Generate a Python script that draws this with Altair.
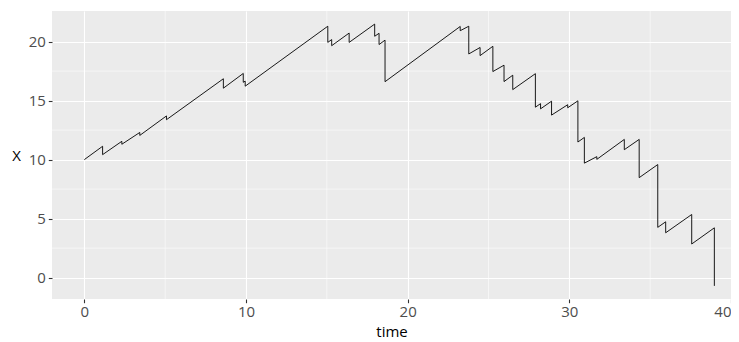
import altair as alt
import pandas as pd

# vertices of the path (time, X); repeated times mark downward jumps
time = [0.0,
        1.13, 1.13, 2.32, 2.32, 3.43, 3.43, 5.08, 5.08,
        8.6, 8.6, 9.83, 9.83, 9.95, 9.95,
        15.06, 15.06, 15.3, 15.3, 16.38, 16.38,
        17.96, 17.96, 18.23, 18.23, 18.6, 18.6,
        23.25, 23.25, 23.78, 23.78, 24.48, 24.48, 25.27, 25.27,
        25.96, 25.96, 26.5, 26.5, 27.9, 27.9, 28.22, 28.22,
        28.9, 28.9, 29.9, 29.9, 30.53, 30.53, 30.93, 30.93,
        31.7, 31.7, 33.4, 33.4, 34.32, 34.32, 35.47, 35.47,
        35.96, 35.96, 37.57, 37.57, 38.97, 38.97]
X = [10.0,
     11.13, 10.42, 11.55, 11.3, 12.3, 12.05, 13.7, 13.38,
     16.85, 16.05, 17.3, 16.55, 16.65, 16.22,
     21.3, 19.93, 20.17, 19.65, 20.72, 19.93,
     21.48, 20.45, 20.7, 19.75, 20.12, 16.6,
     21.28, 20.92, 21.3, 18.95, 19.5, 18.81, 19.6, 17.46,
     18.0, 16.61, 17.15, 15.93, 17.28, 14.44, 14.74, 14.3,
     14.95, 13.77, 14.65, 14.39, 14.98, 11.49, 11.88, 9.7,
     10.25, 10.02, 11.71, 10.84, 11.71, 8.47, 9.58, 4.26,
     4.73, 3.8, 5.35, 2.85, 4.22, -0.7]

x_major = [0, 10, 20, 30, 40]
x_minor = [5, 15, 25, 35]
y_major = [0, 5, 10, 15, 20]
y_minor = [2.5, 7.5, 12.5, 17.5]

df = pd.DataFrame({"time": time, "X": X, "i": list(range(len(time)))})
xmin_df = pd.DataFrame({"v": x_minor})
ymin_df = pd.DataFrame({"v": y_minor})

FONT = "Open Sans"
xs = alt.Scale(domain=[-2.0, 40.0], nice=False, zero=False)
ys = alt.Scale(domain=[-1.81, 22.59], nice=False, zero=False)

xaxis = alt.Axis(values=x_major, grid=True, gridColor="white", gridWidth=1.1,
                 domain=False, tickColor="#333333", tickSize=3.7, tickWidth=1.1,
                 labelColor="#4D4D4D", labelFontSize=15, labelFont=FONT,
                 labelPadding=2, labelFlush=True, title="time", titleFont=FONT,
                 titleFontSize=15, titleFontWeight="normal", titleColor="black",
                 titlePadding=5)
yaxis = alt.Axis(values=y_major, grid=True, gridColor="white", gridWidth=1.1,
                 domain=False, tickColor="#333333", tickSize=3.7, tickWidth=1.1,
                 labelColor="#4D4D4D", labelFontSize=15, labelFont=FONT,
                 labelPadding=3, title="X", titleFont=FONT, titleFontSize=15,
                 titleFontWeight="normal", titleColor="black", titleAngle=0,
                 titleBaseline="middle", titlePadding=12)

vminor = alt.Chart(xmin_df).mark_rule(color="white", strokeWidth=0.55).encode(
    x=alt.X("v:Q", scale=xs, axis=xaxis))
hminor = alt.Chart(ymin_df).mark_rule(color="white", strokeWidth=0.55).encode(
    y=alt.Y("v:Q", scale=ys, axis=yaxis))
line = alt.Chart(df).mark_line(color="black", strokeWidth=0.9, clip=True).encode(
    x=alt.X("time:Q", scale=xs, axis=xaxis),
    y=alt.Y("X:Q", scale=ys, axis=yaxis),
    order="i:Q")

chart = alt.layer(vminor, hminor, line).properties(
    width=679, height=288,
    autosize=alt.AutoSizeParams(type="none"),
    padding={"left": 44, "top": 3, "right": 0, "bottom": 46},
).configure(background="white").configure_view(fill="#EBEBEB", strokeWidth=0)

chart.save("out.html", embed_options={"renderer": "svg", "actions": False})
